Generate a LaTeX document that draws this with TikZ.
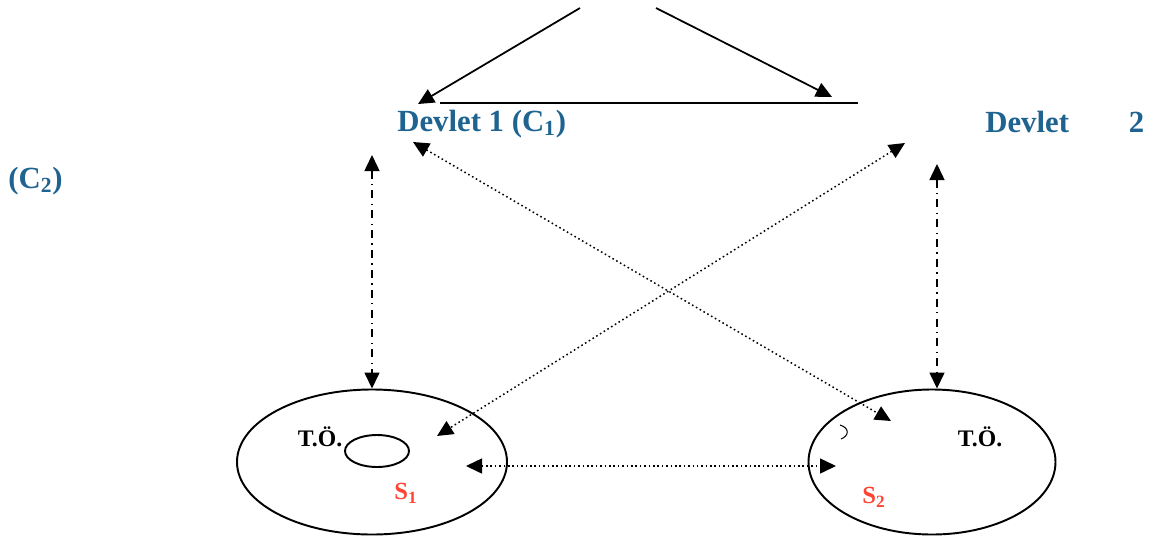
\documentclass[tikz,border=0pt]{standalone}
\usepackage{fontspec}
\setmainfont{Liberation Serif}
\usepackage{xcolor}
\usetikzlibrary{arrows.meta,positioning,shapes.geometric}
\definecolor{stateblue}{HTML}{1F6391}
\definecolor{setred}{HTML}{FF4433}
\tikzset{
  statelabel/.style={font=\fontsize{17.5}{20}\selectfont\bfseries,
                     text=stateblue,inner sep=0pt,anchor=west},
  tolabel/.style={font=\fontsize{13.5}{15}\selectfont\bfseries,inner sep=0pt},
  setlabel/.style={font=\fontsize{14}{16}\selectfont\bfseries,
                   text=setred,inner sep=0pt},
  region/.style={draw,ellipse,line width=1.1pt,inner sep=0pt},
  solidarr/.style={-{Triangle[length=3.2mm,width=3mm]},line width=1pt},
  dasharr/.style={{Triangle[length=3.2mm,width=3mm]}-{Triangle[length=3.2mm,width=3mm]},
                  line width=0.85pt,
                  dash pattern=on 4.5pt off 3pt on 0.8pt off 3pt},
  dotarr/.style={{Triangle[length=3.2mm,width=3mm]}-{Triangle[length=3.2mm,width=3mm]},
                 line width=0.85pt,dash pattern=on 0.9pt off 1.6pt}
}
\begin{document}
\begin{tikzpicture}[x=0.2mm,y=-0.2mm]
  \useasboundingbox (0,0) rectangle (1154,537);
  % state labels
  \node[statelabel] (devlet1) at (397,124) {Devlet 1 (C\textsubscript{1})};
  \node[statelabel] (devlet2) at (985,122) {Devlet\hspace{1.95em}2};
  \node[statelabel] (cii) at (8,181) {(C\textsubscript{2})};

  % top arrows and bar
  \coordinate (topl) at (580,8);
  \coordinate (topr) at (656,8);
  \coordinate (tipl) at (418,104);
  \coordinate (tipr) at (832,97);
  \coordinate (barl) at (440,103);
  \coordinate (barr) at (858,103);
  \draw[solidarr] (topl) -- (tipl);
  \draw[solidarr] (topr) -- (tipr);
  \draw[line width=1pt] (barl) -- (barr);

  % the two regions
  \node[region,minimum width=54mm,minimum height=29mm] (reg1) at (372,462) {};
  \node[region,minimum width=49.4mm,minimum height=29mm] (reg2) at (932,462) {};
  \node[region,minimum width=12.8mm,minimum height=6.4mm] (core) at (377,451) {};
  \node[tolabel] (to1) at (320,437) {T.Ö.};
  \node[tolabel] (to2) at (980,437) {T.Ö.};
  \node[setlabel] (s1) at (406,493) {S\textsubscript{1}};
  \node[setlabel] (s2) at (874,497) {S\textsubscript{2}};
  \draw[line width=0.6pt] (840,425) .. controls (850,428) and (849,436) .. (841,439);

  % vertical links
  \coordinate (v1top) at (372,155);
  \coordinate (v2top) at (937,164);
  \draw[dasharr] (v1top) -- (reg1.north);
  \draw[dasharr] (v2top) -- (v2top |- reg2.north);

  % crossing links
  \coordinate (x1a) at (413,142);
  \coordinate (x1b) at (891,421);
  \coordinate (x2a) at (905,143);
  \coordinate (x2b) at (437,436);
  \draw[dotarr] (x1a) -- (x1b);
  \draw[dotarr] (x2a) -- (x2b);

  % link between regions
  \coordinate (h1) at (466,466);
  \coordinate (h2) at (836,466);
  \draw[dotarr] (h1) -- (h2);
\end{tikzpicture}
\end{document}
